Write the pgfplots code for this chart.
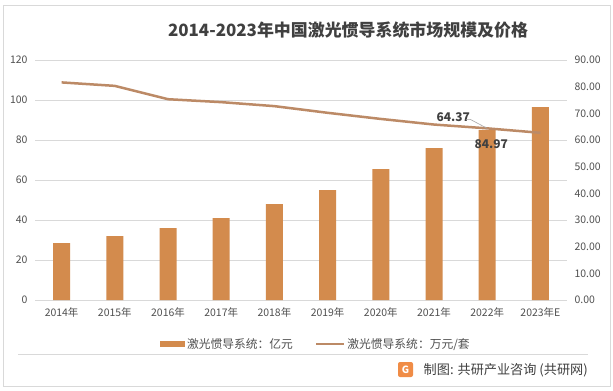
\documentclass[border=0pt]{standalone}
\usepackage{pgfplots}
\pgfplotsset{compat=1.18}
\usepackage{fontspec}
\setmainfont{Noto Sans CJK SC}
\definecolor{barc}{RGB}{211,139,77}
\definecolor{linec}{RGB}{188,138,102}
\definecolor{tickc}{RGB}{80,80,80}
\definecolor{titlec}{RGB}{64,64,64}
\definecolor{gridc}{RGB}{217,217,217}
\definecolor{iconc}{RGB}{240,140,70}
\begin{document}
\begin{tikzpicture}[x=1bp,y=1bp]
\path[fill=white] (0,0) rectangle (613,390);
\draw[gray!30, line width=0.8bp] (3,4) rectangle (610,385);
\node[font=\fontsize{17}{20}\selectfont\bfseries, text=titlec] at (348,360) {2014-2023年中国激光惯导系统市场规模及价格};
\begin{axis}[
  at={(35bp,90bp)}, anchor=south west,
  scale only axis, width=532bp, height=240bp,
  xmin=-0.5, xmax=9.5, ymin=0, ymax=120,
  xtick={0,...,9},
  xticklabels={2014年,2015年,2016年,2017年,2018年,2019年,2020年,2021年,2022年,2023年E},
  ytick={0,20,...,120},
  ymajorgrids, grid style={gridc, line width=0.8bp},
  axis line style={draw=none},
  major tick length=0pt,
  tick label style={font=\fontsize{10.5}{12}\selectfont, text=tickc},
  yticklabel style={xshift=-4bp},
  xticklabel style={yshift=-4bp},
  /pgf/number format/assume math mode=true,
  legend style={at={(0.528,-0.183)}, anchor=center, draw=none, fill=none,
    legend columns=2, font=\fontsize{11.8}{13}\selectfont, text=tickc,
    /tikz/every even column/.append style={column sep=20bp}},
  legend cell align=left,
]
\addplot[ybar, bar width=17bp, fill=barc, draw=none, area legend,
  legend image code/.code={\fill[barc] (0bp,-3bp) rectangle (25bp,3bp);}]
  coordinates {(0,28.5) (1,32) (2,36) (3,41) (4,48) (5,55) (6,65.5) (7,76) (8,84.97) (9,96.5)};
\addlegendentry{激光惯导系统：亿元}
\addlegendimage{legend image code/.code={\draw[linec, line width=2.5bp] (0bp,0bp) -- (28bp,0bp);}}
\addlegendentry{激光惯导系统：万元/套}
\node[font=\fontsize{12}{14}\selectfont\bfseries, text=titlec] at (axis cs:8,84.97) [yshift=-14bp, xshift=4bp] {84.97};
\end{axis}
\begin{axis}[
  at={(35bp,90bp)}, anchor=south west,
  scale only axis, width=532bp, height=240bp,
  xmin=-0.5, xmax=9.5, ymin=0, ymax=90,
  axis y line*=right, axis x line=none,
  ytick={0,10,...,90},
  axis line style={draw=none},
  major tick length=0pt,
  tick label style={font=\fontsize{10.5}{12}\selectfont, text=tickc},
  yticklabel style={xshift=4bp, /pgf/number format/.cd, fixed, fixed zerofill, precision=2},
  /pgf/number format/assume math mode=true,
]
\addplot[linec, line width=2.5bp, mark=none]
  coordinates {(0,81.6) (1,80.3) (2,75.3) (3,74.2) (4,72.7) (5,70.2) (6,67.9) (7,65.8) (8,64.37) (9,62.7)};
\node[font=\fontsize{12}{14}\selectfont\bfseries, text=titlec] at (axis cs:8,64.37) [xshift=-34bp, yshift=11bp] {64.37};
\draw[gray!70, line width=0.6bp] (axis cs:8,64.37) ++(-21bp,9bp) -- ++(4bp,0bp) -- (axis cs:8,64.37);
\end{axis}
\draw[gridc, line width=0.8bp] (18,36) -- (588,36);
\node[anchor=east, font=\fontsize{13.2}{15}\selectfont, text=titlec, inner sep=0pt] at (588,20) {制图: 共研产业咨询 (共研网)};
\fill[iconc, rounded corners=2bp] (398,13) rectangle (413,28);
\node[font=\fontsize{10}{10}\selectfont\bfseries, text=white] at (405.5,20.5) {G};
\end{tikzpicture}
\end{document}
